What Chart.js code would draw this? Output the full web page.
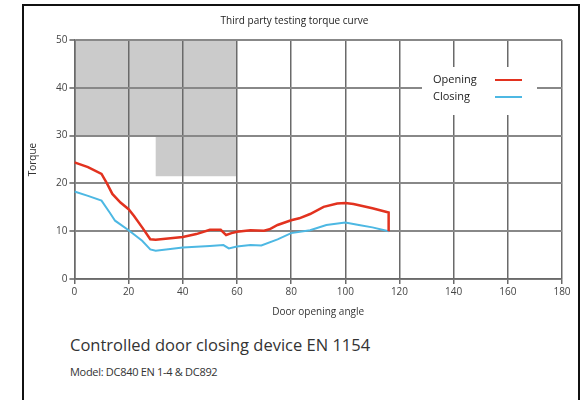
<!DOCTYPE html>
<html>
<head>
<meta charset="utf-8">
<script src="https://cdn.jsdelivr.net/npm/chart.js@4"></script>
<style>
    body { margin: 0; background: #fff; font-family: "Open Sans", sans-serif; }
    #frame { position: absolute; left: 22px; top: 4px; width: 554px; height: 420px; border: 2px solid #111; border-bottom: none; }
    #wrap { position: absolute; left: 0; top: 0; width: 588px; height: 318px; }
    .caption { position: absolute; left: 70px; color: #333; white-space: nowrap; }
    #cap1 { top: 333px; font-size: 16.5px; }
    #cap2 { top: 364px; font-size: 11px; letter-spacing: -0.3px; }
</style>
</head>
<body>
<div id="frame"></div>
<div id="wrap"><canvas id="torqueGraph"></canvas></div>
<div class="caption" id="cap1">Controlled door closing device EN 1154</div>
<div class="caption" id="cap2">Model: DC840 EN 1-4 &amp; DC892</div>
<script>
// door opening angle / torque readings
const openAngle = [0, 5, 10, 12, 14, 17, 20, 22, 25, 28, 30, 40, 45, 50, 54, 56, 58, 60, 65, 70, 72, 75, 80, 83, 87, 92, 97, 100, 103, 110, 116, 116];
const openTorque = [24.4, 23.4, 22.0, 20.0, 17.8, 16.0, 14.6, 13.2, 10.8, 8.3, 8.2, 8.8, 9.4, 10.3, 10.3, 9.2, 9.6, 9.9, 10.2, 10.1, 10.4, 11.3, 12.3, 12.7, 13.6, 15.1, 15.8, 15.9, 15.7, 14.8, 13.9, 10.0];

const closeAngle = [0, 5, 10, 13, 15, 20, 25, 28, 30, 40, 50, 55, 57, 60, 65, 69, 75, 80, 87, 93, 100, 105, 110, 116];
const closeTorque = [18.3, 17.4, 16.4, 13.9, 12.2, 10.2, 8.0, 6.2, 5.9, 6.6, 6.9, 7.1, 6.4, 6.8, 7.1, 7.0, 8.3, 9.6, 10.2, 11.3, 11.8, 11.3, 10.8, 10.0];

// grey requirement zones
const zoneX = [[0, 60], [30, 60]];
const zoneY = [[30, 50], [21.5, 30]];

const xTicks = [0, 20, 40, 60, 80, 100, 120, 140, 160, 180];
const yTicks = [0, 10, 20, 30, 40, 50];

const seriesNames = ['Opening', 'Closing'];
const seriesColors = ['#e2321f', '#4db8e3'];

const toPoints = (xs, ys) => xs.map((x, i) => ({ x: x, y: ys[i] }));

// shaded zones, drawn under the grid
const zonePlugin = {
    id: 'zones',
    beforeDraw(chart) {
        const { ctx, scales: { x, y } } = chart;
        ctx.save();
        ctx.fillStyle = '#cbcbcb';
        zoneX.forEach((zx, i) => {
            const x0 = x.getPixelForValue(zx[0]);
            const x1 = x.getPixelForValue(zx[1]);
            const y0 = y.getPixelForValue(zoneY[i][1]);
            const y1 = y.getPixelForValue(zoneY[i][0]);
            ctx.fillRect(x0, y0, x1 - x0, y1 - y0);
        });
        ctx.restore();
    }
};

// legend box with text on the left and a line sample on the right
const legendPlugin = {
    id: 'boxLegend',
    beforeDatasetsDraw(chart) {
        const ctx = chart.ctx;
        ctx.save();
        ctx.fillStyle = '#fff';
        ctx.fillRect(422, 67, 115, 48);
        ctx.font = '11px "Open Sans", sans-serif';
        ctx.textBaseline = 'middle';
        seriesNames.forEach((name, i) => {
            const yy = 80 + i * 17;
            ctx.fillStyle = '#222';
            ctx.fillText(name, 433, yy);
            ctx.strokeStyle = seriesColors[i];
            ctx.lineWidth = 2;
            ctx.beginPath();
            ctx.moveTo(495, yy);
            ctx.lineTo(522, yy);
            ctx.stroke();
        });
        ctx.restore();
    }
};

const ctx = document.getElementById('torqueGraph').getContext('2d');

new Chart(ctx, {
    type: 'line',
    data: {
        datasets: [
            {
                label: seriesNames[0],
                data: toPoints(openAngle, openTorque),
                borderColor: seriesColors[0],
                borderWidth: 2.5,
                pointRadius: 0,
                fill: false
            },
            {
                label: seriesNames[1],
                data: toPoints(closeAngle, closeTorque),
                borderColor: seriesColors[1],
                borderWidth: 2,
                pointRadius: 0,
                fill: false
            }
        ]
    },
    options: {
        responsive: true,
        maintainAspectRatio: false,
        animation: false,
        layout: {
            padding: { left: 27, right: 26, top: 2, bottom: 0 }
        },
        plugins: {
            legend: { display: false },
            tooltip: { enabled: false },
            title: {
                display: true,
                text: 'Third party testing torque curve',
                color: '#222',
                font: { family: 'Open Sans', size: 10, weight: 'normal' },
                padding: { top: 13, bottom: 13 }
            }
        },
        scales: {
            x: {
                type: 'linear',
                min: 0,
                max: 180,
                afterBuildTicks: axis => { axis.ticks = xTicks.map(v => ({ value: v })); },
                ticks: { color: '#444', font: { family: 'Open Sans', size: 10 }, padding: 2 },
                grid: { color: '#6a6a6a', lineWidth: 1.5, tickLength: 5 },
                border: { color: '#6a6a6a', width: 1.5 },
                title: {
                    display: true,
                    text: 'Door opening angle',
                    color: '#333',
                    font: { family: 'Open Sans', size: 10 },
                    padding: { top: 6, bottom: 0 }
                }
            },
            y: {
                min: 0,
                max: 50,
                afterBuildTicks: axis => { axis.ticks = yTicks.map(v => ({ value: v })); },
                ticks: { color: '#444', font: { family: 'Open Sans', size: 10 }, padding: 2 },
                grid: { color: '#888', lineWidth: 2, tickLength: 5 },
                border: { color: '#6a6a6a', width: 1.5 },
                title: {
                    display: true,
                    text: 'Torque',
                    color: '#333',
                    font: { family: 'Open Sans', size: 10 },
                    padding: { top: 0, bottom: 15 }
                }
            }
        }
    },
    plugins: [zonePlugin, legendPlugin]
});
</script>
</body>
</html>
